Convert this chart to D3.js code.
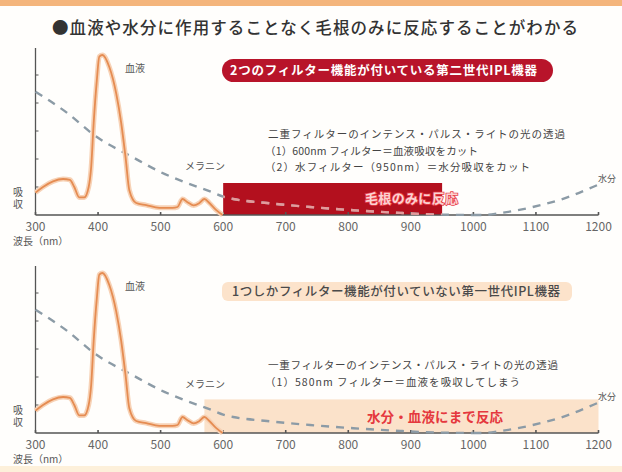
<!DOCTYPE html>
<html>
<head>
<meta charset="utf-8">
<script src="https://cdn.jsdelivr.net/npm/d3@7"></script>
<style>
  body { margin: 0; background: #fff; }
  svg { display: block; font-family: 'Noto Sans CJK JP', 'Noto Sans', sans-serif; }
</style>
</head>
<body>
<div id="chart"></div>
<script>
// blood absorption (normalised)
const bloodNm = [300, 312, 328, 344, 355, 362, 370, 378, 385, 389, 393, 398, 402, 407, 418, 429, 437, 444, 450, 461, 477, 498, 519, 527, 535, 543, 553, 562, 570, 578, 589, 599]
const bloodValues = [0.14, 0.175, 0.21, 0.225, 0.22, 0.175, 0.11, 0.11, 0.175, 0.3, 0.575, 0.84, 0.99, 1.0, 0.925, 0.76, 0.575, 0.36, 0.155, 0.075, 0.062, 0.045, 0.045, 0.05, 0.1, 0.08, 0.06, 0.075, 0.1, 0.075, 0.03, 0]
// melanin absorption
const melaninNm = [300, 350, 397, 456, 499, 542, 584, 600, 616, 670, 739, 808, 883, 935, 1000]
const melaninValues = [0.77, 0.64, 0.49, 0.36, 0.27, 0.2, 0.14, 0.115, 0.1, 0.075, 0.05, 0.03, 0.013, 0.004, 0]
// water absorption
const waterNm = [1000, 1015, 1043, 1095, 1150, 1191, 1200]
const waterValues = [0, 0, 0.012, 0.05, 0.11, 0.175, 0.19]
const xTicks = [300, 400, 500, 600, 700, 800, 900, 1000, 1100, 1200]
const yTicks = [0.175, 0.35, 0.525, 0.7, 0.875]

const panels = [
  {
    dy: 0,
    banner: '2つのフィルター機能が付いている第二世代IPL機器',
    bannerDark: true,
    lines: ['二重フィルターのインテンス・パルス・ライトの光の透過', '（1）600nm フィルター＝血液吸収をカット', '（2）水フィルター（950nm）＝水分吸収をカット'],
    lineLen: [297, 213, 265],
    band: [600, 950, 0.2],
    bandText: '毛根のみに反応'
  },
  {
    dy: 218,
    banner: '1つしかフィルター機能が付いていない第一世代IPL機器',
    bannerDark: false,
    lines: ['一重フィルターのインテンス・パルス・ライトの光の透過', '（1）580nm フィルター＝血液を吸収してしまう'],
    lineLen: [290, 255],
    band: [570, 1200, 0.21],
    bandText: '水分・血液にまで反応'
  }
]

const width = 622
const height = 472
const svg = d3.select('#chart').append('svg')
  .attr('width', width)
  .attr('height', height)

svg.append('rect').attr('width', width).attr('height', height).attr('fill', '#fffefc')
svg.append('rect').attr('width', width).attr('height', 6).attr('fill', '#f4b57c')
svg.append('rect').attr('y', 466).attr('width', width).attr('height', 6).attr('fill', '#fdf0da')

svg.append('text')
  .attr('x', 52).attr('y', 34)
  .attr('font-size', 16.5)
  .attr('font-weight', 500)
  .attr('fill', '#333')
  .attr('textLength', 526)
  .text('●血液や水分に作用することなく毛根のみに反応することがわかる')

const x = d3.scaleLinear().domain([300, 1200]).range([35.5, 598.5])
const y = d3.scaleLinear().domain([0, 1]).range([215, 55])

const line = d3.line().x(d => x(d[0])).y(d => y(d[1])).curve(d3.curveMonotoneX)
const blood = d3.zip(bloodNm, bloodValues)
const melanin = d3.zip(melaninNm, melaninValues)
const water = d3.zip(waterNm, waterValues)

panels.forEach((p, i) => {
  const g = svg.append('g').attr('transform', `translate(0,${p.dy})`)

  // banner
  if (p.bannerDark) {
    g.append('rect').attr('x', 222).attr('y', 59).attr('width', 331).attr('height', 23)
      .attr('rx', 11.5).attr('fill', '#b8142a')
    g.append('text').attr('x', 230).attr('y', 75).attr('font-size', 12.5).attr('font-weight', 700)
      .attr('fill', '#fff').attr('textLength', 307).text(p.banner)
  } else {
    g.append('rect').attr('x', 222).attr('y', 64).attr('width', 350).attr('height', 19)
      .attr('rx', 6).attr('fill', '#fce3cb')
    g.append('text').attr('x', 232).attr('y', 78).attr('font-size', 12.5).attr('font-weight', 500)
      .attr('fill', '#4a4a4a').attr('textLength', 328).text(p.banner)
  }

  // annotation
  p.lines.forEach((t, k) => {
    g.append('text')
      .attr('x', k === 0 ? 268 : 265)
      .attr('y', 138 + k * 16.5 - (i === 1 ? -13 : 0))
      .attr('font-size', 10.5)
      .attr('fill', '#444')
      .attr('textLength', p.lineLen[k])
      .text(t)
  })

  // reaction band
  const [b0, b1, bTop] = p.band
  const clipId = `clip-${i}`
  g.append('clipPath').attr('id', clipId).append('rect')
    .attr('x', x(b0)).attr('y', y(bTop)).attr('width', x(b1) - x(b0)).attr('height', y(0) - y(bTop))
  g.append('rect')
    .attr('x', x(b0)).attr('y', y(bTop)).attr('width', x(b1) - x(b0)).attr('height', y(0) - y(bTop))
    .attr('fill', i === 0 ? '#b3101e' : '#fbdfc4')
    .attr('opacity', i === 0 ? 1 : 0.9)

  // axes
  g.append('line').attr('x1', x(300)).attr('x2', x(300)).attr('y1', 48).attr('y2', y(0))
    .attr('stroke', '#555').attr('stroke-width', 1.3)
  g.selectAll('.ytick').data(yTicks).enter().append('line')
    .attr('x1', x(300)).attr('x2', x(300) + 3).attr('y1', d => y(d)).attr('y2', d => y(d))
    .attr('stroke', '#555').attr('stroke-width', 1)
  g.append('line').attr('x1', x(300)).attr('x2', x(1200)).attr('y1', y(0)).attr('y2', y(0))
    .attr('stroke', '#555').attr('stroke-width', 1.6)
  g.selectAll('.xtick').data(xTicks).enter().append('line')
    .attr('x1', d => x(d)).attr('x2', d => x(d)).attr('y1', y(0) - 3).attr('y2', y(0))
    .attr('stroke', '#555').attr('stroke-width', 1.6)
  g.selectAll('.xlabel').data(xTicks).enter().append('text')
    .attr('x', d => x(d)).attr('y', 231)
    .attr('text-anchor', 'middle').attr('font-size', 12).attr('fill', '#666')
    .text(d => d)
  g.append('text').attr('x', 13).attr('y', 245).attr('font-size', 10).attr('fill', '#555').text('波長（nm）')
  g.append('text').attr('x', 18).attr('y', 187)
    .attr('writing-mode', 'vertical-rl').attr('letter-spacing', 2)
    .attr('font-size', 10).attr('fill', '#555').text('吸収')

  // dashed curves
  ;[melanin, water].forEach(s => {
    g.append('path').attr('d', line(s)).attr('fill', 'none')
      .attr('stroke', '#8c9ba6').attr('stroke-width', 2.4).attr('stroke-dasharray', '8,7')
    if (i === 0) {
      g.append('path').attr('d', line(s)).attr('fill', 'none').attr('clip-path', `url(#${clipId})`)
        .attr('stroke', '#e59a9a').attr('stroke-width', 2.4).attr('stroke-dasharray', '8,7')
    }
  })

  // blood curve
  g.append('path').attr('d', line(blood)).attr('fill', 'none')
    .attr('stroke', '#f7d2b6').attr('stroke-width', 5).attr('stroke-linejoin', 'round')
  g.append('path').attr('d', line(blood)).attr('fill', 'none')
    .attr('stroke', '#e58c52').attr('stroke-width', 1.8).attr('stroke-linejoin', 'round')

  // curve labels
  g.append('text').attr('x', 125).attr('y', 72).attr('font-size', 10).attr('fill', '#555').text('血液')
  g.append('text').attr('x', 185).attr('y', 170).attr('font-size', 10).attr('fill', '#555').text('メラニン')
  g.append('text').attr('x', 598).attr('y', 182).attr('font-size', 9).attr('fill', '#555').text('水分')

  // band text
  if (i === 0) {
    g.append('text').attr('x', 365).attr('y', 203).attr('font-size', 13).attr('font-weight', 700)
      .attr('fill', '#fbd3d3').attr('stroke', '#e8404a').attr('stroke-width', 1.6)
      .attr('paint-order', 'stroke').attr('textLength', 93).text(p.bandText)
  } else {
    g.append('text').attr('x', 367).attr('y', 204).attr('font-size', 13.5).attr('font-weight', 700)
      .attr('fill', '#e5383e').attr('textLength', 136).text(p.bandText)
  }
})
</script>
</body>
</html>
